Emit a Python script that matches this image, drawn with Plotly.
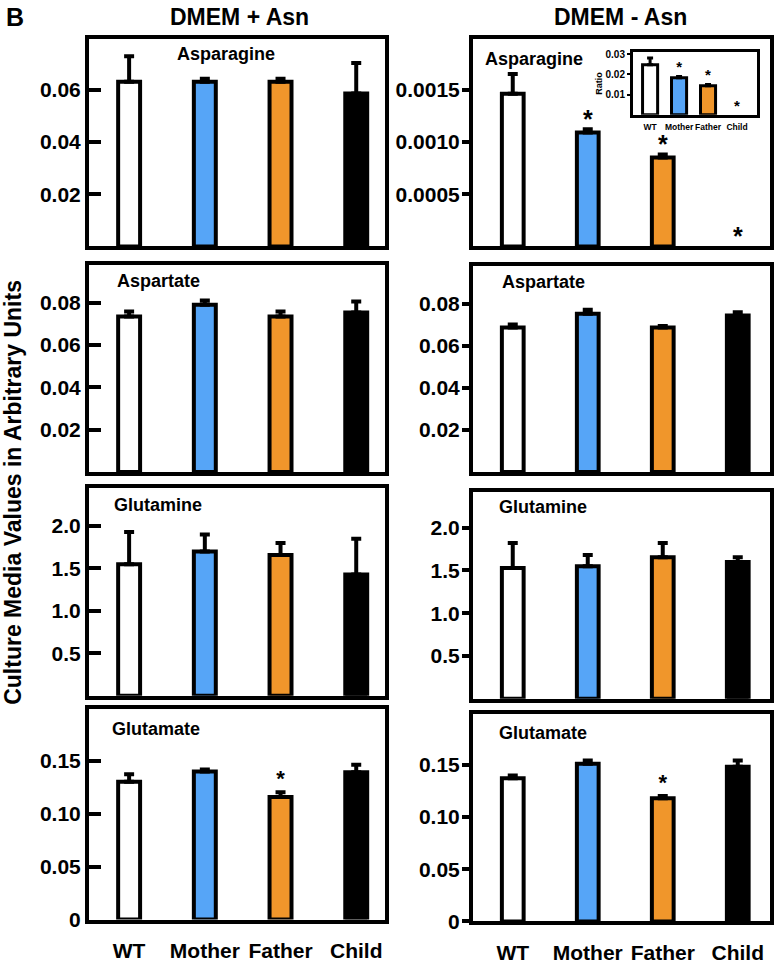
"""
Culture media amino acids, DMEM +/- Asn, four genotypes
"""
import plotly.graph_objects as go

groups = ['WT', 'Mother', 'Father', 'Child']
bar_colors = ['white', '#56A5F7', '#F0962B', 'black']

# DMEM + Asn
asn_plus = [0.063, 0.063, 0.063, 0.0585]
asn_plus_err = [0.0098, 0.0012, 0.0012, 0.0117]
asp_plus = [0.0735, 0.079, 0.0735, 0.0753]
asp_plus_err = [0.0023, 0.002, 0.0023, 0.0052]
gln_plus = [1.55, 1.70, 1.66, 1.43]
gln_plus_err = [0.38, 0.20, 0.14, 0.42]
glu_plus = [0.130, 0.1397, 0.1155, 0.139]
glu_plus_err = [0.007, 0.0018, 0.0045, 0.007]
glu_plus_sig = [0, 0, 1, 0]

# DMEM - Asn
asn_minus = [0.00146, 0.00109, 0.00085, 0.0]
asn_minus_err = [0.00019, 0.00003, 0.00003, 0.0]
asn_minus_sig = [0, 1, 1, 1]
asp_minus = [0.0688, 0.0753, 0.0688, 0.0745]
asp_minus_err = [0.0014, 0.0019, 0.0007, 0.0016]
gln_minus = [1.53, 1.55, 1.655, 1.60]
gln_minus_err = [0.29, 0.13, 0.165, 0.055]
glu_minus = [0.137, 0.151, 0.118, 0.148]
glu_minus_err = [0.0026, 0.003, 0.002, 0.006]
glu_minus_sig = [0, 0, 1, 0]

# inset: ratio, DMEM - Asn
ratio = [0.0248, 0.0184, 0.0144, 0.0]
ratio_err = [0.0034, 0.0006, 0.0007, 0.0]
ratio_sig = [0, 1, 1, 1]

W, H = 777, 966
FONT = 'Liberation Sans, Arial, sans-serif'

def X(px):
    return px / W

def Y(py):
    return 1 - py / H

# inner plot areas in pixels
LEFT = (89, 385)
RIGHT = (473, 770)

panels = [
    dict(v=asn_plus, e=asn_plus_err, sig=None, x=LEFT, y=(37, 247), ymax=0.0792,
         tv=[0.02, 0.04, 0.06], tt=['0.02', '0.04', '0.06'], side='L',
         label='Asparagine', lx=226, ly=52, lanchor='center'),
    dict(v=asn_minus, e=asn_minus_err, sig=asn_minus_sig, x=RIGHT, y=(37, 247), ymax=0.00198,
         tv=[0.0005, 0.001, 0.0015], tt=['0.0005', '0.0010', '0.0015'], side='R',
         label='Asparagine', lx=483, ly=57, lanchor='left', star=(25, 8)),
    dict(v=asp_plus, e=asp_plus_err, sig=None, x=LEFT, y=(266, 476), ymax=0.0977,
         tv=[0.02, 0.04, 0.06, 0.08], tt=['0.02', '0.04', '0.06', '0.08'], side='L',
         label='Aspartate', lx=115, ly=282, lanchor='left'),
    dict(v=asp_minus, e=asp_minus_err, sig=None, x=RIGHT, y=(267, 476), ymax=0.098,
         tv=[0.02, 0.04, 0.06, 0.08], tt=['0.02', '0.04', '0.06', '0.08'], side='R',
         label='Aspartate', lx=500, ly=283, lanchor='left'),
    dict(v=gln_plus, e=gln_plus_err, sig=None, x=LEFT, y=(492, 703), ymax=2.45,
         tv=[0.5, 1.0, 1.5, 2.0], tt=['0.5', '1.0', '1.5', '2.0'], side='L',
         label='Glutamine', lx=112, ly=509, lanchor='left'),
    dict(v=gln_minus, e=gln_minus_err, sig=None, x=RIGHT, y=(496, 706), ymax=2.42,
         tv=[0.5, 1.0, 1.5, 2.0], tt=['0.5', '1.0', '1.5', '2.0'], side='R',
         label='Glutamine', lx=497, ly=511, lanchor='left'),
    dict(v=glu_plus, e=glu_plus_err, sig=glu_plus_sig, x=LEFT, y=(716, 930), ymax=0.199,
         tv=[0, 0.05, 0.10, 0.15], tt=['0', '0.05', '0.10', '0.15'], side='L',
         label='Glutamate', lx=110, ly=737, lanchor='left', star=(22, 12), bottom=True),
    dict(v=glu_minus, e=glu_minus_err, sig=glu_minus_sig, x=RIGHT, y=(721, 932), ymax=0.199,
         tv=[0, 0.05, 0.10, 0.15], tt=['0', '0.05', '0.10', '0.15'], side='R',
         label='Glutamate', lx=497, ly=741, lanchor='left', star=(22, 12), bottom=True),
    dict(v=ratio, e=ratio_err, sig=ratio_sig, x=(633, 757), y=(50, 113.5), ymax=0.031,
         tv=[0.01, 0.02, 0.03], tt=['0.01', '0.02', '0.03'], side='I',
         label=None, star=(15, 8), inset=True),
]

fig = go.Figure()
annotations = []

for i, p in enumerate(panels):
    n = '' if i == 0 else str(i + 1)
    xa, ya = 'x' + n, 'y' + n
    inset = p.get('inset', False)
    lw = 3 if inset else 4
    width = 0.52 if inset else 0.29
    # nothing drawn where nothing was detected
    shown = [v if v > 0 else None for v in p['v']]
    fig.add_trace(go.Bar(
        x=list(range(len(groups))), y=shown, xaxis=xa, yaxis=ya, width=width,
        marker=dict(color=bar_colors, line=dict(color='black', width=lw)),
        error_y=dict(type='data', symmetric=False, array=p['e'], arrayminus=[0] * 4,
                     color='black', thickness=3 if inset else 4, width=3 if inset else 5),
        hoverinfo='skip'))
    if p['sig']:
        size, pad = p['star']
        hpx = p['y'][1] - p['y'][0]
        unit = p['ymax'] / hpx
        sx = [k for k, s in enumerate(p['sig']) if s]
        sy = [p['v'][k] + p['e'][k] + pad * unit for k in sx]
        fig.add_trace(go.Scatter(
            x=sx, y=sy, xaxis=xa, yaxis=ya, mode='text', text=['*'] * len(sx),
            textposition='middle center', hoverinfo='skip',
            textfont=dict(size=size, color='black', family=FONT, weight='bold')))

    if p['side'] == 'L':
        xr = [-0.53, 3.38]
    elif p['side'] == 'R':
        xr = [-0.53, 3.43]
    else:
        xr = [-0.59, 3.69]

    xaxis = dict(domain=[X(p['x'][0]), X(p['x'][1])], range=xr, anchor=ya,
                 showline=True, linecolor='black', linewidth=lw, mirror=True,
                 showgrid=False, zeroline=False, fixedrange=True,
                 tickvals=list(range(4)), ticktext=groups, ticks='', tickangle=0)
    if inset:
        xaxis.update(showticklabels=True, tickfont=dict(size=8.5, family=FONT, weight='bold', color='black'),
                     ticklabelstandoff=2)
    elif p.get('bottom'):
        xaxis.update(showticklabels=True, tickfont=dict(size=21, family=FONT, weight='bold', color='black'),
                     ticklabelstandoff=9)
    else:
        xaxis.update(showticklabels=False)

    yaxis = dict(domain=[Y(p['y'][1]), Y(p['y'][0])], range=[0, p['ymax']], anchor=xa,
                 showline=True, linecolor='black', linewidth=lw, mirror=True,
                 showgrid=False, zeroline=False, fixedrange=True,
                 tickvals=p['tv'], ticktext=p['tt'], tickcolor='black')
    if p['side'] == 'L':
        yaxis.update(ticks='inside', ticklen=12, tickwidth=4,
                     tickfont=dict(size=21, family=FONT, weight='bold', color='black'))
    elif p['side'] == 'R':
        yaxis.update(ticks='outside', ticklen=7, tickwidth=4, ticklabelstandoff=-2,
                     tickfont=dict(size=21, family=FONT, weight='bold', color='black'))
    else:
        yaxis.update(ticks='outside', ticklen=3, tickwidth=2,
                     tickfont=dict(size=10, family=FONT, weight='bold', color='black'),
                     title=dict(text='Ratio', standoff=2,
                                font=dict(size=9, family=FONT, weight='bold', color='black')))
    fig.layout['xaxis' + n] = xaxis
    fig.layout['yaxis' + n] = yaxis

    if p['label']:
        annotations.append(dict(
            text=p['label'], x=X(p['lx']), y=Y(p['ly']), xref='paper', yref='paper',
            xanchor=p['lanchor'], yanchor='middle', showarrow=False,
            font=dict(size=18, family=FONT, weight='bold', color='black')))

# column titles, panel letter, shared y title
for txt, cx in [('DMEM + Asn', 239), ('DMEM - Asn', 620)]:
    annotations.append(dict(text=txt, x=X(cx), y=Y(14), xref='paper', yref='paper',
                            xanchor='center', yanchor='middle', showarrow=False,
                            font=dict(size=23, family=FONT, weight='bold', color='black')))
annotations.append(dict(text='B', x=X(4), y=Y(14), xref='paper', yref='paper',
                        xanchor='left', yanchor='middle', showarrow=False,
                        font=dict(size=25, family=FONT, weight='bold', color='black')))
annotations.append(dict(text='Culture Media Values in Arbitrary Units', x=X(13), y=Y(497),
                        xref='paper', yref='paper', xanchor='center', yanchor='middle',
                        textangle=-90, showarrow=False,
                        font=dict(size=23, family=FONT, weight='bold', color='black')))

fig.update_layout(width=W, height=H, autosize=False, margin=dict(l=0, r=0, t=0, b=0),
                  paper_bgcolor='white', plot_bgcolor='white', showlegend=False,
                  annotations=annotations, bargap=0,
                  font=dict(family=FONT, color='black'))

# page body has a default 8px margin; drop it so the figure sits at the top-left
fig.write_html('out.html', config={'staticPlot': True},
               post_script="document.body.style.margin='0';")
